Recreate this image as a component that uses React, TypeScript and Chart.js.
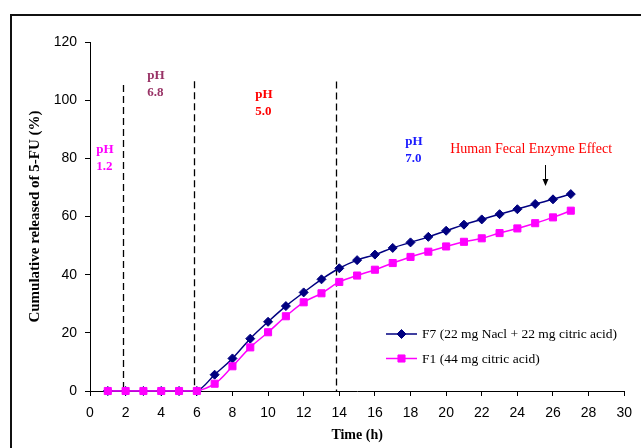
import React, { useEffect, useRef } from 'react';
import { Chart, registerables } from 'chart.js';

Chart.register(...registerables);

// ---- Data ----
const hours = [1, 2, 3, 4, 5, 6, 7, 8, 9, 10, 11, 12, 13, 14, 15, 16, 17, 18, 19, 20, 21, 22, 23, 24, 25, 26, 27];
const f7Values = [0, 0, 0, 0, 0, 0, 5.6, 11.2, 18.0, 23.8, 29.2, 33.9, 38.4, 42.2, 45.0, 46.9, 49.2, 51.1, 53.0, 55.1, 57.2, 59.0, 60.8, 62.5, 64.3, 65.9, 67.7];
const f1Values = [0, 0, 0, 0, 0, 0, 2.5, 8.5, 15.0, 20.2, 25.7, 30.5, 33.6, 37.5, 39.7, 41.7, 44.0, 46.1, 47.9, 49.7, 51.3, 52.5, 54.3, 55.9, 57.7, 59.7, 62.0];
const seriesLabels = ['F7 (22 mg Nacl + 22 mg citric acid)', 'F1 (44 mg citric acid)'];

// phase boundaries (hours) and their top (in % units)
const phaseBoundaries = [1.85, 5.85, 13.8];
const phaseBoundaryTops = [105.2, 106.5, 106.4];

// pH labels anchored in data units
const phTitles = ['pH', 'pH', 'pH', 'pH'];
const phValues = ['1.2', '6.8', '5.0', '7.0'];
const phLabelX = [0.35, 3.22, 9.28, 17.7];
const phLabelY = [82.9, 108.3, 101.8, 85.7];

const enzymeText = 'Human Fecal Enzyme Effect';
const enzymeTextX = 20.23;
const enzymeTextY = 83.2;
const arrowX = 25.57;
const arrowFromY = 77.7;
const arrowToY = 70.5;

const xTickStep = 2;
const yTickStep = 20;

// ---- Styles ----
const NAVY = '#000080';
const MAGENTA = '#FF00FF';
const PH_COLORS = ['#FF00FF', '#993366', '#FF0000', '#1a1aff'];
const SERIF = "'Liberation Serif', 'Times New Roman', serif";
const SANS = "'Liberation Sans', Arial, sans-serif";

function drawMarker(ctx: CanvasRenderingContext2D, style: string, x: number, y: number, r: number, color: string) {
  ctx.save();
  ctx.fillStyle = color;
  ctx.strokeStyle = color;
  ctx.lineWidth = 1;
  ctx.beginPath();
  if (style === 'rectRot') {
    ctx.moveTo(x, y - r);
    ctx.lineTo(x + r, y);
    ctx.lineTo(x, y + r);
    ctx.lineTo(x - r, y);
    ctx.closePath();
  } else {
    const h = Math.SQRT1_2 * r;
    ctx.rect(x - h, y - h, 2 * h, 2 * h);
  }
  ctx.fill();
  ctx.stroke();
  ctx.restore();
}

const decorPlugin = {
  id: 'decor',
  beforeDraw(chart: any) {
    const ctx = chart.ctx;
    ctx.save();
    ctx.fillStyle = '#ffffff';
    ctx.fillRect(0, 0, chart.width, chart.height);
    ctx.strokeStyle = '#111';
    ctx.lineWidth = 2;
    ctx.strokeRect(11, 15, chart.width + 40, chart.height + 40);
    ctx.restore();
  },
  beforeDatasetsDraw(chart: any) {
    const ctx = chart.ctx;
    const xs = chart.scales.x;
    const ys = chart.scales.y;
    ctx.save();
    ctx.strokeStyle = '#000';
    ctx.lineWidth = 1.3;
    ctx.setLineDash([7, 4]);
    phaseBoundaries.forEach((b, i) => {
      const px = Math.round(xs.getPixelForValue(b)) + 0.5;
      ctx.beginPath();
      ctx.moveTo(px, ys.getPixelForValue(phaseBoundaryTops[i]));
      ctx.lineTo(px, ys.getPixelForValue(0));
      ctx.stroke();
    });
    ctx.restore();
  },
  afterDraw(chart: any) {
    const ctx = chart.ctx;
    const xs = chart.scales.x;
    const ys = chart.scales.y;
    ctx.save();
    // pH labels
    ctx.font = `bold 13px ${SERIF}`;
    ctx.textAlign = 'left';
    ctx.textBaseline = 'middle';
    phTitles.forEach((t, i) => {
      const px = xs.getPixelForValue(phLabelX[i]);
      const py = ys.getPixelForValue(phLabelY[i]);
      ctx.fillStyle = PH_COLORS[i];
      ctx.fillText(t, px, py);
      ctx.fillText(phValues[i], px, py + 16.6);
    });
    // enzyme text
    ctx.font = `14px ${SERIF}`;
    ctx.fillStyle = '#FF0000';
    ctx.fillText(enzymeText, xs.getPixelForValue(enzymeTextX), ys.getPixelForValue(enzymeTextY));
    // arrow
    const ax = Math.round(xs.getPixelForValue(arrowX)) + 0.5;
    const ay1 = ys.getPixelForValue(arrowFromY);
    const ay2 = ys.getPixelForValue(arrowToY);
    ctx.strokeStyle = '#000';
    ctx.fillStyle = '#000';
    ctx.lineWidth = 1;
    ctx.beginPath();
    ctx.moveTo(ax, ay1);
    ctx.lineTo(ax, ay2 - 5);
    ctx.stroke();
    ctx.beginPath();
    ctx.moveTo(ax - 3, ay2 - 7);
    ctx.lineTo(ax + 3, ay2 - 7);
    ctx.lineTo(ax, ay2);
    ctx.closePath();
    ctx.fill();
    // legend
    const order = [1, 0]; // F7 first, F1 second in legend
    order.forEach((dsIndex, row) => {
      const ds = chart.data.datasets[dsIndex];
      const y = 334 + row * 24.5;
      ctx.strokeStyle = ds.borderColor;
      ctx.lineWidth = 1.5;
      ctx.beginPath();
      ctx.moveTo(386, y);
      ctx.lineTo(417, y);
      ctx.stroke();
      drawMarker(ctx, ds.pointStyle, 401.5, y, ds.pointRadius, ds.borderColor);
      ctx.fillStyle = '#000';
      ctx.font = `13.5px ${SERIF}`;
      ctx.textAlign = 'left';
      ctx.textBaseline = 'middle';
      ctx.fillText(ds.label, 422, y + 0.5);
    });
    ctx.restore();
  },
};

export default function App() {
  const canvasRef = useRef<HTMLCanvasElement | null>(null);

  useEffect(() => {
    if (!canvasRef.current) return;
    const chart = new Chart(canvasRef.current, {
      type: 'line',
      data: {
        datasets: [
          {
            label: seriesLabels[1],
            data: hours.map((h, i) => ({ x: h, y: f1Values[i] })),
            borderColor: MAGENTA,
            backgroundColor: MAGENTA,
            pointStyle: 'rect',
            pointRadius: 5,
            pointBorderWidth: 1,
            borderWidth: 1.5,
            tension: 0.4,
            clip: false,
          } as any,
          {
            label: seriesLabels[0],
            data: hours.map((h, i) => ({ x: h, y: f7Values[i] })),
            borderColor: NAVY,
            backgroundColor: NAVY,
            pointStyle: 'rectRot',
            pointRadius: 4.5,
            pointBorderWidth: 1,
            borderWidth: 1.5,
            tension: 0.4,
            clip: false,
          } as any,
        ],
      },
      options: {
        responsive: false,
        animation: false,
        layout: { padding: { top: 42, right: 13, left: 0, bottom: 0 } },
        plugins: { legend: { display: false }, tooltip: { enabled: false } },
        scales: {
          x: {
            type: 'linear',
            min: 0,
            max: 30,
            ticks: { stepSize: xTickStep, color: '#000', font: { family: SANS, size: 14 }, padding: 9, maxRotation: 0 },
            grid: { drawOnChartArea: false, drawTicks: true, tickLength: 5, color: '#000' },
            border: { color: '#000', width: 1 },
            title: {
              display: true,
              text: 'Time (h)',
              color: '#000',
              font: { family: SERIF, size: 14, weight: 'bold' },
              padding: { top: 0, bottom: 4 },
            },
            afterFit(scale: any) {
              scale.height = 57;
            },
          },
          y: {
            min: 0,
            max: 120,
            ticks: { stepSize: yTickStep, color: '#000', font: { family: SANS, size: 14 }, padding: 8 },
            grid: { drawOnChartArea: false, drawTicks: true, tickLength: 5, color: '#000' },
            border: { color: '#000', width: 1 },
            title: {
              display: true,
              text: 'Cumulative released of 5-FU (%)',
              color: '#000',
              font: { family: SERIF, size: 15, weight: 'bold' },
              padding: { top: 26, bottom: 0 },
            },
            afterFit(scale: any) {
              scale.width = 90;
            },
          },
        },
      } as any,
      plugins: [decorPlugin],
    });
    return () => chart.destroy();
  }, []);

  return (
    <div style={{ position: 'absolute', left: 0, top: 0, width: 641, height: 448 }}>
      <canvas ref={canvasRef} width={641} height={448} style={{ display: 'block' }} />
    </div>
  );
}
